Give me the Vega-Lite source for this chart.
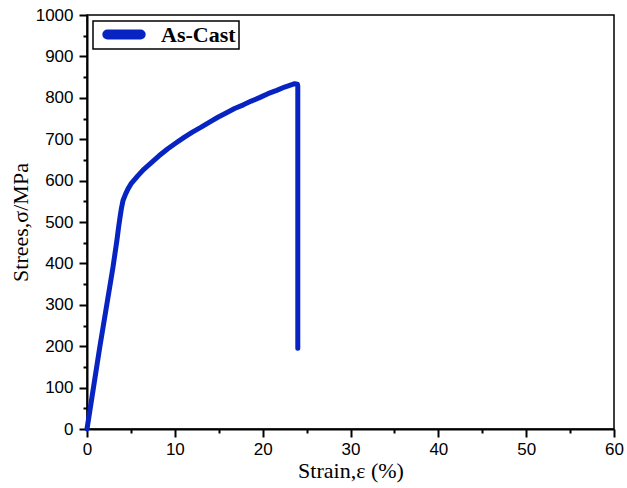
{
  "$schema": "https://vega.github.io/schema/vega-lite/v6.json",
  "width": 527,
  "height": 414,
  "autosize": {"type": "none"},
  "padding": {"left": 87, "top": 15, "right": 13, "bottom": 59},
  "background": "white",
  "config": {
    "view": {"stroke": "black", "strokeWidth": 1.5},
    "axis": {
      "domainColor": "black",
      "domainWidth": 2,
      "tickColor": "black",
      "tickWidth": 2,
      "grid": false,
      "labelFont": "Liberation Sans",
      "labelFontSize": 17,
      "labelColor": "black",
      "titleFont": "Liberation Serif",
      "titleFontSize": 22,
      "titleFontWeight": "normal",
      "titleColor": "black"
    }
  },
  "data": {
    "values": [
      {"strain": 0.0, "stress": 0, "series": "As-Cast"},
      {"strain": 1.45, "stress": 197, "series": "As-Cast"},
      {"strain": 2.96, "stress": 391, "series": "As-Cast"},
      {"strain": 3.4, "stress": 455, "series": "As-Cast"},
      {"strain": 3.6, "stress": 488, "series": "As-Cast"},
      {"strain": 3.75, "stress": 510, "series": "As-Cast"},
      {"strain": 3.91, "stress": 532, "series": "As-Cast"},
      {"strain": 4.1, "stress": 552, "series": "As-Cast"},
      {"strain": 4.4, "stress": 568, "series": "As-Cast"},
      {"strain": 4.67, "stress": 580, "series": "As-Cast"},
      {"strain": 5.0, "stress": 592, "series": "As-Cast"},
      {"strain": 5.8, "stress": 612, "series": "As-Cast"},
      {"strain": 6.5, "stress": 628, "series": "As-Cast"},
      {"strain": 7.3, "stress": 643, "series": "As-Cast"},
      {"strain": 8.2, "stress": 660, "series": "As-Cast"},
      {"strain": 9.2, "stress": 677, "series": "As-Cast"},
      {"strain": 10.2, "stress": 692, "series": "As-Cast"},
      {"strain": 11.1, "stress": 705, "series": "As-Cast"},
      {"strain": 12.0, "stress": 717, "series": "As-Cast"},
      {"strain": 13.0, "stress": 729, "series": "As-Cast"},
      {"strain": 14.0, "stress": 742, "series": "As-Cast"},
      {"strain": 14.9, "stress": 753, "series": "As-Cast"},
      {"strain": 16.0, "stress": 765, "series": "As-Cast"},
      {"strain": 16.8, "stress": 774, "series": "As-Cast"},
      {"strain": 17.8, "stress": 783, "series": "As-Cast"},
      {"strain": 18.7, "stress": 792, "series": "As-Cast"},
      {"strain": 19.7, "stress": 801, "series": "As-Cast"},
      {"strain": 20.6, "stress": 810, "series": "As-Cast"},
      {"strain": 21.6, "stress": 818, "series": "As-Cast"},
      {"strain": 22.5, "stress": 826, "series": "As-Cast"},
      {"strain": 23.65, "stress": 834, "series": "As-Cast"},
      {"strain": 23.95, "stress": 833, "series": "As-Cast"},
      {"strain": 24.0, "stress": 828, "series": "As-Cast"},
      {"strain": 24.0, "stress": 195, "series": "As-Cast"}
    ]
  },
  "mark": {"type": "line", "strokeWidth": 5, "strokeCap": "round", "strokeJoin": "round"},
  "encoding": {
    "order": {"value": 0},
    "x": {
      "field": "strain",
      "type": "quantitative",
      "scale": {"domain": [0, 60], "nice": false, "zero": false},
      "axis": {
        "title": "Strain,ε (%)",
        "values": [0, 5, 10, 15, 20, 25, 30, 35, 40, 45, 50, 55, 60],
        "labelExpr": "datum.value % 10 === 0 ? datum.label : ''",
        "tickSize": {"condition": {"test": "datum.value % 10 === 0", "value": 8}, "value": 4},
        "labelPadding": 4,
        "titlePadding": 3,
        "labelFlush": false,
        "labelOverlap": false
      }
    },
    "y": {
      "field": "stress",
      "type": "quantitative",
      "scale": {"domain": [0, 1000], "nice": false},
      "axis": {
        "title": "Strees,σ/MPa",
        "values": [0, 50, 100, 150, 200, 250, 300, 350, 400, 450, 500, 550, 600, 650, 700, 750, 800, 850, 900, 950, 1000],
        "labelExpr": "datum.value % 100 === 0 ? datum.label : ''",
        "format": "d",
        "tickSize": {"condition": {"test": "datum.value % 100 === 0", "value": 8}, "value": 4},
        "labelPadding": 6,
        "titlePadding": 3,
        "labelFlush": false,
        "labelOverlap": false
      }
    },
    "color": {
      "field": "series",
      "type": "nominal",
      "scale": {"range": ["#0724c2"]},
      "legend": {
        "title": null,
        "orient": "top-left",
        "offset": 6,
        "padding": 3,
        "clipHeight": 21,
        "strokeColor": "black",
        "symbolType": "stroke",
        "symbolSize": 1110,
        "symbolStrokeWidth": 10,
        "symbolOffset": 6,
        "labelOffset": 15,
        "labelFont": "Liberation Serif",
        "labelFontWeight": "bold",
        "labelFontSize": 22,
        "labelColor": "black",
        "encode": {
          "symbols": {"update": {"strokeCap": {"value": "round"}}},
          "legend": {"update": {"strokeWidth": {"value": 1.5}}}
        }
      }
    }
  }
}
